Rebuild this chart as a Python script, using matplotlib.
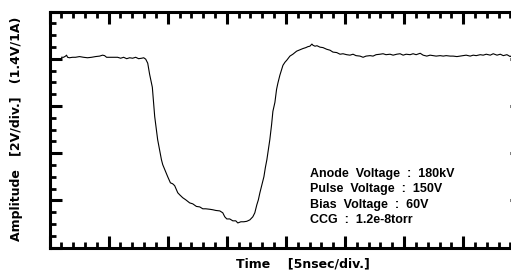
import matplotlib
matplotlib.use('Agg')
import matplotlib.pyplot as plt
from matplotlib.ticker import MultipleLocator, NullFormatter

plt.rcParams['font.family'] = ['Liberation Sans', 'DejaVu Sans']
plt.rcParams['font.weight'] = 'bold'

# scope trace: time [ns], amplitude [V]  (5 ns/div, 2 V/div)
t_ns = [1.02, 1.19, 1.36, 1.44, 1.53, 1.69, 1.95, 2.20, 2.54, 2.88, 3.22, 3.56, 3.90,
        4.24, 4.49, 4.66, 4.83, 5.08, 5.42, 5.76, 6.02, 6.27, 6.53, 6.78, 7.03, 7.29,
        7.54, 7.80, 7.97, 8.14, 8.31, 8.47, 8.70, 8.90, 9.15, 9.47, 9.58, 9.75, 10.00,
        10.23, 10.42, 10.59, 10.85, 11.02, 11.27, 11.53, 11.86, 12.12, 12.43, 12.71,
        12.97, 13.22, 13.56, 13.81, 14.07, 14.41, 14.66, 14.83, 15.00, 15.25, 15.51,
        15.76, 15.93, 16.19, 16.44, 16.69, 16.95, 17.20, 17.37, 17.54, 17.67, 17.80,
        17.97, 18.14, 18.26, 18.39, 18.52, 18.64, 18.79, 18.90, 19.07, 19.21, 19.32,
        19.49, 19.64, 19.75, 19.92, 20.08, 20.34, 20.59, 20.91, 21.19, 21.44, 21.69,
        21.86, 22.03, 22.20, 22.29, 22.46, 22.63, 22.88, 23.14, 23.45, 23.73, 23.98,
        24.30, 24.58, 24.83, 25.14, 25.42, 25.68, 25.93, 26.27, 26.53, 26.78, 27.12,
        27.37, 27.63, 27.97, 28.22, 28.47, 28.81, 29.07, 29.38, 29.66, 29.92, 30.17,
        30.51, 30.76, 31.02, 31.36, 31.61, 31.92, 32.20, 32.46, 32.71, 33.05, 33.31,
        33.56, 33.90, 34.15, 34.47, 34.75, 35.00, 35.25, 35.59, 35.85, 36.10, 36.44,
        36.69, 36.95, 37.29, 37.54, 37.86, 38.14, 38.39, 38.70, 38.98, 39.15]
amp_v = [8.06, 8.06, 8.11, 8.15, 8.06, 8.04, 8.06, 8.06, 8.09, 8.06, 8.04, 8.06, 8.09,
         8.11, 8.15, 8.13, 8.06, 8.06, 8.06, 8.06, 8.02, 8.06, 8.00, 8.04, 8.02, 8.06,
         8.00, 8.02, 8.04, 7.98, 7.81, 7.34, 6.79, 5.55, 4.57, 3.72, 3.51, 3.30, 3.00,
         2.74, 2.70, 2.62, 2.32, 2.23, 2.11, 2.02, 1.89, 1.85, 1.74, 1.72, 1.64, 1.64,
         1.62, 1.60, 1.57, 1.55, 1.47, 1.30, 1.21, 1.21, 1.13, 1.13, 1.04, 1.09, 1.09,
         1.11, 1.17, 1.30, 1.47, 1.81, 2.02, 2.32, 2.66, 3.00, 3.38, 3.72, 4.15, 4.57,
         5.21, 5.77, 6.15, 6.70, 6.96, 7.30, 7.55, 7.72, 7.85, 7.94, 8.11, 8.19, 8.32,
         8.38, 8.43, 8.47, 8.51, 8.53, 8.62, 8.57, 8.53, 8.55, 8.49, 8.47, 8.40, 8.36,
         8.28, 8.26, 8.19, 8.21, 8.17, 8.15, 8.19, 8.13, 8.11, 8.06, 8.11, 8.13, 8.11,
         8.17, 8.19, 8.21, 8.17, 8.19, 8.15, 8.19, 8.21, 8.15, 8.19, 8.17, 8.21, 8.17,
         8.23, 8.15, 8.11, 8.15, 8.13, 8.11, 8.13, 8.11, 8.13, 8.11, 8.11, 8.09, 8.11,
         8.13, 8.15, 8.11, 8.15, 8.13, 8.17, 8.15, 8.19, 8.15, 8.21, 8.15, 8.19, 8.13,
         8.17, 8.09, 8.15]

conditions = ['Anode  Voltage  :  180kV',
              'Pulse  Voltage  :  150V',
              'Bias  Voltage  :  60V',
              'CCG  :  1.2e-8torr']

W, H = 511, 271
fig = plt.figure(figsize=(W/100, H/100), dpi=100)
# axes runs past the right edge of the picture like the scanned original
ax = fig.add_axes([49.5/W, 1-247.5/H, 472.8/W, 236/H])
ax.plot(t_ns, amp_v, color='black', lw=0.8)
ax.set_xlim(0, 40)
ax.set_ylim(0, 10)

ax.xaxis.set_major_locator(MultipleLocator(5))
ax.xaxis.set_minor_locator(MultipleLocator(1))
ax.yaxis.set_major_locator(MultipleLocator(2))
ax.yaxis.set_minor_locator(MultipleLocator(0.5))
ax.xaxis.set_major_formatter(NullFormatter())
ax.yaxis.set_major_formatter(NullFormatter())
ax.tick_params(which='both', direction='in', top=True, right=True, color='black')
ax.tick_params(which='major', length=8.5, width=2.2)
ax.tick_params(which='minor', length=4.3, width=2.0)
for s in ax.spines.values():
    s.set_linewidth(2.2)

# axis labels are wider-set than the legend text
lab_font = ['DejaVu Sans']
fig.text(16.7/W, 1-129/H, 'Amplitude   [2V/div.]   (1.4V/1A)', rotation=90,
         ha='center', va='center', fontsize=9, fontweight='bold', family=lab_font)
fig.text(303/W, 1-263.5/H, 'Time    [5nsec/div.]', ha='center', va='center',
         fontsize=9, fontweight='bold', family=lab_font)
for i, line in enumerate(conditions):
    fig.text(310/W, 1-(176.7+15.5*i)/H, line, ha='left', va='baseline',
             fontsize=9, fontweight='bold')

fig.savefig('out.png', dpi=100)
